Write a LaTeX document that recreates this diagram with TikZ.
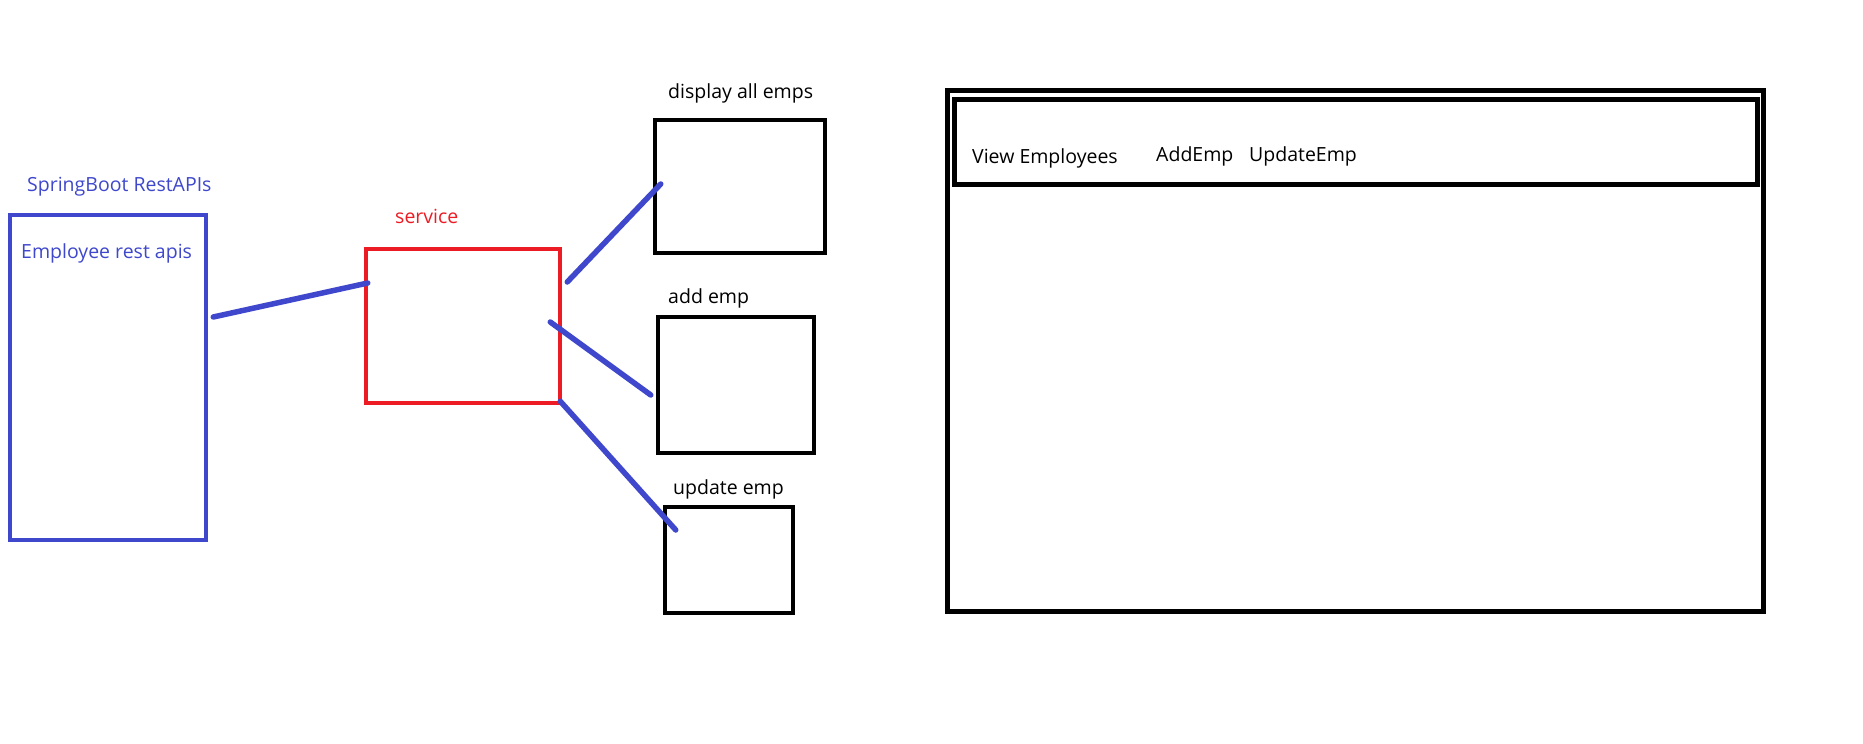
\documentclass[tikz,border=0pt]{standalone}
\usepackage{fontspec}
\setmainfont{Open Sans}
\usetikzlibrary{calc}
\definecolor{pblue}{HTML}{3F48CC}
\definecolor{pred}{HTML}{ED1C24}
\tikzset{
  box/.style={draw, line width=4.5pt, inner sep=0pt},
  label text/.style={anchor=base west, inner sep=0pt, font=\fontsize{19.5}{22}\selectfont},
  link/.style={draw=pblue, line width=5.5pt, line cap=round},
}
\newcommand{\boxat}[6]{% name, style, x1, y1, x2, y2
  \node[#2, minimum width={(#5-#3)*1pt}, minimum height={(#6-#4)*1pt}] (#1) at ({(#3+#5)/2},{(#4+#6)/2}) {};}
\begin{document}
\begin{tikzpicture}[x=1pt,y=-1pt]
  \useasboundingbox[fill=white] (0,0) rectangle (1863,744);

  % REST API layer
  \boxat{api}{box, draw=pblue}{10}{215}{206}{540}
  \node[label text, text=pblue] (apititle) at (27,191) {SpringBoot RestAPIs};
  \node[label text, text=pblue] (apitext) at (21,258) {Employee rest apis};

  % service layer
  \boxat{svc}{box, draw=pred}{366}{249}{560}{403}
  \node[label text, text=pred] (svctitle) at (395,223) {service};

  % operations
  \boxat{disp}{box}{655}{120}{825}{253}
  \node[label text] (disptitle) at (668,98) {display all emps};
  \boxat{add}{box}{658}{317}{814}{453}
  \node[label text] (addtitle) at (668,303) {add emp};
  \boxat{upd}{box}{665}{507}{793}{613}
  \node[label text] (updtitle) at (673,494) {update emp};

  % UI window with menu bar
  \boxat{win}{box, line width=5pt}{947.5}{90.5}{1763.5}{611.5}
  \boxat{menu}{box, line width=5pt}{954.5}{99.5}{1757.5}{184.5}
  \node[label text] (mview) at (972,163) {View Employees};
  \node[label text] (madd) at (1156,161) {AddEmp};
  \node[label text] (mupd) at (1249,161) {UpdateEmp};

  % connector end points
  \coordinate (a1) at ($(api.east)+(5,-60.5)$);
  \coordinate (s1) at ($(svc.west)+(4,-43)$);
  \coordinate (s2) at ($(svc.east)+(5,-44)$);
  \coordinate (d1) at ($(disp.west)+(8,-2.5)$);
  \coordinate (s3) at ($(svc.east)+(-12,-4)$);
  \coordinate (e1) at ($(add.west)+(-5,10)$);
  \coordinate (s4) at ($(svc.south east)+(-2,-4)$);
  \coordinate (u1) at ($(upd.west)+(13,-30)$);

  \draw[link] (a1) -- (s1);
  \draw[link] (s2) -- (d1);
  \draw[link] (s3) -- (e1);
  \draw[link] (s4) -- (u1);
\end{tikzpicture}
\end{document}
